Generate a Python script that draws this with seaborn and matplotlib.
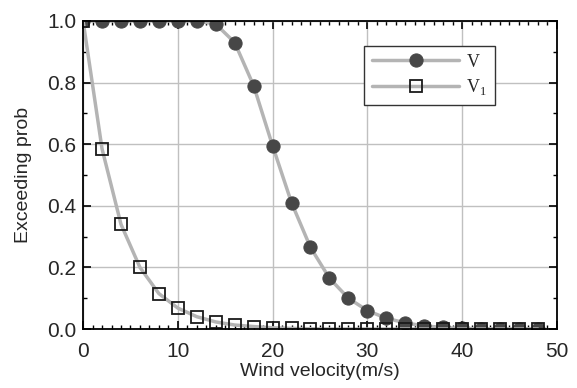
import matplotlib
matplotlib.use("Agg")
import matplotlib.pyplot as plt
import matplotlib.ticker as ticker
import seaborn as sns

# data
speed = [0, 2, 4, 6, 8, 10, 12, 14, 16, 18, 20, 22, 24, 26, 28, 30, 32, 34, 36, 38, 40, 42, 44, 46, 48]
prob_v = [1.0, 1.0, 1.0, 1.0, 1.0, 1.0, 1.0, 0.99, 0.93, 0.79, 0.595, 0.41, 0.265, 0.165, 0.10, 0.06,
          0.035, 0.02, 0.01, 0.005, 0.002, 0.001, 0.0, 0.0, 0.0]
prob_v1 = [1.0, 0.585, 0.34, 0.20, 0.115, 0.068, 0.04, 0.023, 0.013, 0.008, 0.004, 0.002, 0.001,
           0.0, 0.0, 0.0, 0.0, 0.0, 0.0, 0.0, 0.0, 0.0, 0.0, 0.0, 0.0]

sns.set_style("ticks")
plt.rcParams['font.family'] = ['Liberation Sans', 'DejaVu Sans']

fig = plt.figure(figsize=(5.77, 3.88), dpi=100)
ax = fig.add_axes([0.144, 0.152, 0.821, 0.794])

sns.lineplot(x=speed, y=prob_v, ax=ax, color='#b4b4b4', lw=2.5, marker='o', markersize=9.5,
             markerfacecolor='#474747', markeredgecolor='#474747', label='V', zorder=3)
sns.lineplot(x=speed, y=prob_v1, ax=ax, color='#b4b4b4', lw=2.5, marker='s', markersize=9,
             markerfacecolor='none', markeredgecolor='#1a1a1a', markeredgewidth=1.3,
             label='V$_\\mathregular{1}$', zorder=3)

ax.set_xlim(0, 50)
ax.set_ylim(0, 1.0)
ax.xaxis.set_major_locator(ticker.MultipleLocator(10))
ax.xaxis.set_minor_locator(ticker.MultipleLocator(1))
ax.yaxis.set_major_locator(ticker.MultipleLocator(0.2))
ax.yaxis.set_minor_locator(ticker.MultipleLocator(0.1))
ax.yaxis.set_major_formatter(ticker.FormatStrFormatter('%.1f'))
ax.grid(True, which='major', color='#c0c0c0', lw=1)
ax.tick_params(which='both', direction='in', top=True, right=True, labelsize=15, color='black')
ax.tick_params(which='major', length=6, width=1.2)
ax.tick_params(which='minor', length=3, width=1)
ax.tick_params(axis='x', which='major', pad=9)
ax.tick_params(axis='y', which='major', pad=5)
for s in ax.spines.values():
    s.set_color('black')
    s.set_linewidth(1.3)
    s.set_zorder(5)

ax.set_xlabel('Wind velocity(m/s)', fontsize=14, labelpad=2)
ax.set_ylabel('Exceeding prob', fontsize=14, labelpad=11)

leg = ax.legend(loc='upper right', bbox_to_anchor=(0.87, 0.92), frameon=True, fancybox=False,
                edgecolor='#333333', framealpha=1, handlelength=4.8, borderpad=0.45,
                handletextpad=0.4, borderaxespad=0,
                prop={'family': 'Liberation Serif', 'size': 13}, labelspacing=0.35)
leg.get_frame().set_linewidth(1.0)

fig.savefig('out.png', dpi=100)
